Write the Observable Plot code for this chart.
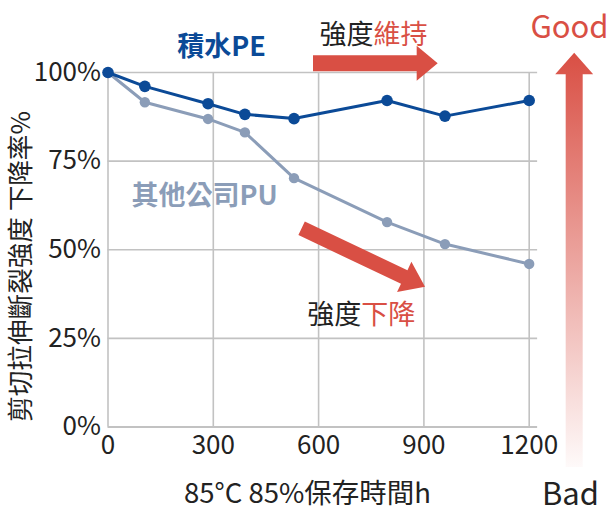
<!DOCTYPE html>
<html><head><meta charset="utf-8">
<script src="https://cdn.jsdelivr.net/npm/d3@7"></script>
<script src="https://cdn.jsdelivr.net/npm/@observablehq/plot@0.6"></script>
<style>html,body{margin:0;padding:0;background:#fff}</style>
</head><body><div id="chart"></div>
<script>
// ---- data ----
const hours = [0, 105, 285, 390, 530, 795, 960, 1200];
const sekisuiPE = [100, 96.1, 91.2, 88.2, 87.0, 92.1, 87.7, 92.1];
const otherPU = [100, 91.6, 86.9, 83.1, 70.2, 57.8, 51.6, 46.0];
const xTicks = [0, 300, 600, 900, 1200];
const yTicks = [0, 25, 50, 75, 100];
const seriesNames = ["積水PE", "其他公司PU"];
const xTitle = "85°C 85%保存時間h";
const yTitle = "剪切拉伸斷裂強度 下降率%";
const notes = {keepA: "強度", keepB: "維持", dropA: "強度", dropB: "下降", good: "Good", bad: "Bad"};

// ---- styles ----
const BLUE = "#0b4a97", GREYBLUE = "#8b9db8", RED = "#d94f44", INK = "#222", GRID = "#c2c2c2";
const FONT = "'Noto Sans CJK TC', 'Noto Sans', sans-serif";

const pe = hours.map((h, i) => ({h, v: sekisuiPE[i]}));
const pu = hours.map((h, i) => ({h, v: otherPU[i]}));

// annotation anchors in data units
const lab = (x, y, text) => [{x, y, text}];

const plot = Plot.plot({
  width: 612, height: 516,
  marginLeft: 107.5, marginRight: 83.3, marginTop: 72, marginBottom: 89.5,
  style: {fontFamily: FONT, fontSize: "26px", color: INK, background: "#fff", overflow: "visible"},
  x: {domain: [0, 1200], ticks: xTicks, tickFormat: d => String(d), tickSize: 0, tickPadding: 9, label: null},
  y: {domain: [0, 100], ticks: yTicks, tickFormat: d => d + "%", tickSize: 0, tickPadding: 7, label: null},
  marks: [
    Plot.text(lab(275, 65.2, seriesNames[1]), {x: "x", y: "y", text: "text", fill: GREYBLUE, fontSize: 27, fontWeight: "bold"}),
    Plot.ruleY(yTicks.filter(d => d > 0), {x1: 0, x2: 1224, y: d => d, stroke: GRID, strokeWidth: 1.6}),
    Plot.ruleX(xTicks, {x: d => d, y1: 0, y2: 100, stroke: GRID, strokeWidth: 1.6}),
    Plot.ruleY([0], {x1: 0, x2: 1224, y: d => d, stroke: GRID, strokeWidth: 2.2}),
    Plot.line(pu, {x: "h", y: "v", stroke: GREYBLUE, strokeWidth: 3}),
    Plot.dot(pu, {x: "h", y: "v", fill: GREYBLUE, r: 5.2}),
    Plot.line(pe, {x: "h", y: "v", stroke: BLUE, strokeWidth: 3}),
    Plot.dot(pe, {x: "h", y: "v", fill: BLUE, r: 5.8}),
    Plot.text(lab(323.6, 107.2, seriesNames[0]), {x: "x", y: "y", text: "text", fill: BLUE, fontSize: 27, fontWeight: "bold"}),
    Plot.text(lab(756.4, 110.4, notes.keepA), {x: "x", y: "y", text: "text", fill: INK, fontSize: 27, textAnchor: "end"}),
    Plot.text(lab(756.4, 110.4, notes.keepB), {x: "x", y: "y", text: "text", fill: RED, fontSize: 27, textAnchor: "start"}),
    Plot.text(lab(721.4, 31.4, notes.dropA), {x: "x", y: "y", text: "text", fill: INK, fontSize: 27, textAnchor: "end"}),
    Plot.text(lab(721.4, 31.4, notes.dropB), {x: "x", y: "y", text: "text", fill: RED, fontSize: 27, textAnchor: "start"}),
    Plot.text(lab(1314.8, 112.5, notes.good), {x: "x", y: "y", text: "text", fill: RED, fontSize: 31}),
    Plot.text(lab(1317.7, -19.3, notes.bad), {x: "x", y: "y", text: "text", fill: INK, fontSize: 31}),
    Plot.text(lab(568.4, -19.0, xTitle), {x: "x", y: "y", text: "text", fill: INK, fontSize: 27.5}),
    Plot.text(lab(-246.4, 45.3, yTitle), {x: "x", y: "y", text: "text", fill: INK, fontSize: 25.6, rotate: -90})
  ]
});

// ---- block arrows, positioned through the plot's own scales ----
const sx = plot.scale("x"), sy = plot.scale("y");
const svg = d3.select(plot);
function blockArrow(a, b, bodyW, headW, headL) {
  const x0 = sx.apply(a[0]), y0 = sy.apply(a[1]), x1 = sx.apply(b[0]), y1 = sy.apply(b[1]);
  const dx = x1 - x0, dy = y1 - y0, L = Math.hypot(dx, dy);
  const ux = dx / L, uy = dy / L, nx = -uy, ny = ux;
  const bx = x1 - ux * headL, by = y1 - uy * headL;
  const p = (x, y, w) => [x + nx * w, y + ny * w];
  return [p(x0, y0, bodyW / 2), p(bx, by, bodyW / 2), p(bx, by, headW / 2), [x1, y1],
          p(bx, by, -headW / 2), p(bx, by, -bodyW / 2), p(x0, y0, -bodyW / 2)];
}
const line = d3.line();
const keepArrow = [[585.5, 102.5], [940.7, 102.5]];
const dropArrow = [[553, 55.9], [904.6, 39.4]];
const scaleArrow = [[1329.6, -11.4], [1329.6, 105.4]];

const defs = svg.append("defs");
const g = defs.append("linearGradient").attr("id", "gb").attr("gradientUnits", "userSpaceOnUse")
  .attr("x1", 0).attr("x2", 0).attr("y1", sy.apply(scaleArrow[1][1])).attr("y2", sy.apply(scaleArrow[0][1]));
g.append("stop").attr("offset", 0).attr("stop-color", RED).attr("stop-opacity", 1);
g.append("stop").attr("offset", 1).attr("stop-color", RED).attr("stop-opacity", 0.03);

const arrows = svg.append("g");
arrows.append("path").attr("d", line(blockArrow(...keepArrow, 16, 35, 21)) + "Z").attr("fill", RED);
arrows.append("path").attr("d", line(blockArrow(...dropArrow, 15, 33.5, 23)) + "Z").attr("fill", RED);
arrows.append("path").attr("d", line(blockArrow(...scaleArrow, 17, 38, 21.3)) + "Z").attr("fill", "url(#gb)");

document.getElementById("chart").appendChild(plot);
</script>
</body></html>
